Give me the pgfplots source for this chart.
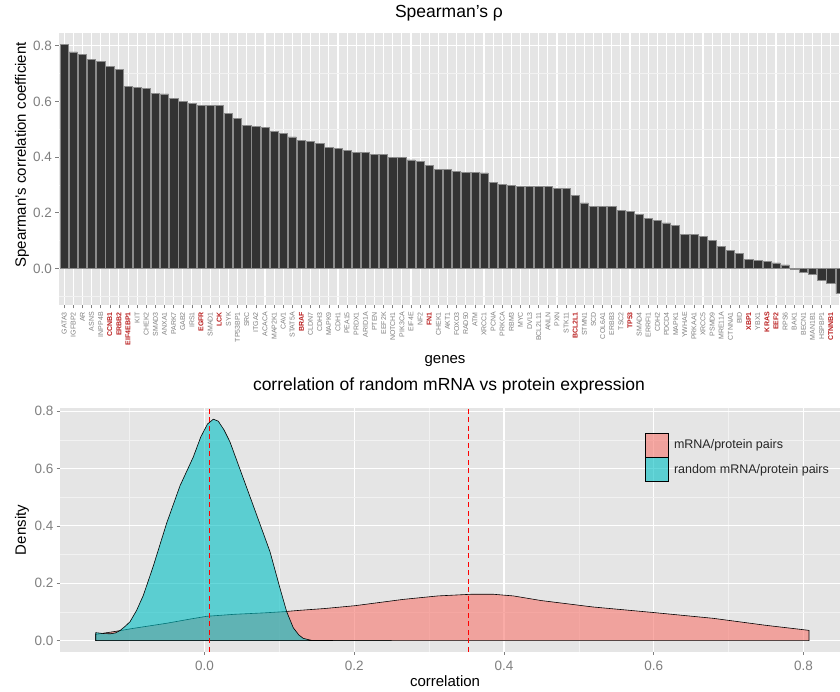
\documentclass[border=0pt]{standalone}
\usepackage{pgfplots}
\pgfplotsset{compat=1.18}
\usepackage{fontspec}
\setmainfont{Liberation Sans}
\definecolor{panelgrey}{RGB}{229,229,229}
\definecolor{minorgrey}{RGB}{242,242,242}
\definecolor{tickgrey}{RGB}{127,127,127}
\definecolor{barfill}{RGB}{51,51,51}
\definecolor{barline}{RGB}{140,140,140}
\definecolor{genered}{RGB}{185,30,30}
\definecolor{ggred}{RGB}{248,118,109}
\definecolor{ggteal}{RGB}{0,191,196}
\definecolor{vred}{RGB}{255,0,0}
\newcommand{\rg}[1]{\textcolor{genered}{\bfseries #1}}
\pgfplotsset{
  ggbase/.style={
    scale only axis,
    axis background/.style={fill=panelgrey},
    axis line style={draw=none},
    tick align=outside,
    xtick pos=lower, ytick pos=left,
    major tick length=3.5pt,
    minor tick length=0pt,
    tick style={color=tickgrey, line width=0.6pt},
    grid=both,
    major grid style={white, line width=1.1pt},
    minor grid style={minorgrey, line width=0.55pt},
    tick label style={font=\fontsize{13.5}{16}\selectfont, text=tickgrey},
    /pgf/number format/fixed,
    /pgf/number format/fixed zerofill,
    /pgf/number format/precision=1,
    /pgf/number format/assume math mode=true,
    label style={font=\fontsize{15}{18}\selectfont, text=black},
    title style={font=\fontsize{17.5}{21}\selectfont, text=black},
    yticklabel style={inner sep=0pt, anchor=east, xshift=-3pt},
  }
}
\begin{document}
\begin{tikzpicture}
\useasboundingbox (0,0) rectangle (840pt,692pt);
% ---------- top: Spearman's rho per gene ----------
\begin{axis}[ggbase,
  at={(58.7pt,387pt)}, anchor=south west,
  width=781.2pt, height=272.4pt,
  xmin=-0.6, xmax=85.0, ymin=-0.131, ymax=0.847,
  xtick={0,...,85},
  xticklabels={GATA3,IGFBP2,AR,ASNS,INPP4B,\rg{CCNB1},\rg{ERBB2},\rg{EIF4EBP1},KIT,CHEK2,SMAD3,ANXA1,PARK7,GAB2,IRS1,\rg{EGFR},SMAD1,\rg{LCK},SYK,TP53BP1,SRC,ITGA2,ACACA,MAP2K1,CAV1,STAT5A,\rg{BRAF},CLDN7,CDH3,MAPK9,CDH1,PEA15,PRDX1,ARID1A,PTEN,EEF2K,NOTCH1,PIK3CA,EIF4E,NF2,\rg{FN1},CHEK1,AKT1,FOXO3,RAD50,ATM,XRCC1,PCNA,PRKCA,RBM3,MYC,DVL3,BCL2L11,ANLN,PXN,STK11,\rg{BCL2L1},STMN1,SCD,COL6A1,ERBB3,TSC2,\rg{TP53},SMAD4,ERRFI1,CDH2,PDCD4,MAPK1,YWHAE,PRKAA1,XRCC5,PSMD9,MRE11A,CTNNA1,BID,\rg{XBP1},YBX1,\rg{KRAS},\rg{EEF2},RPS6,BAK1,BECN1,MAN1B1,HSPBP1,\rg{CTNNB1},{}},
  xticklabel style={font=\fontsize{7}{8}\selectfont, rotate=90, anchor=east, inner sep=0pt, xshift=-3.5pt},
  ytick={0,0.2,0.4,0.6,0.8},
  minor ytick={-0.1,0.1,0.3,0.5,0.7},
  title={Spearman's ρ},
  title style={at={(axis description cs:0.4996,1.0341)}, anchor=base},
  xlabel={genes},
  xlabel style={at={(axis description cs:0.4945,-0.213)}, anchor=base},
  ylabel={Spearman's correlation coefficient},
  ylabel style={at={(axis description cs:-0.047,0.551)}, anchor=center},
]
\addplot[ybar, bar width=0.9, fill=barfill, draw=barline, line width=0.5pt] coordinates {
(0,0.804) (1,0.778) (2,0.769) (3,0.750) (4,0.743) (5,0.725) (6,0.716) (7,0.653) (8,0.651) (9,0.647)
(10,0.629) (11,0.627) (12,0.612) (13,0.601) (14,0.593) (15,0.585) (16,0.585) (17,0.585) (18,0.557) (19,0.538)
(20,0.513) (21,0.511) (22,0.507) (23,0.492) (24,0.484) (25,0.473) (26,0.460) (27,0.457) (28,0.448) (29,0.434)
(30,0.430) (31,0.423) (32,0.417) (33,0.416) (34,0.411) (35,0.411) (36,0.398) (37,0.398) (38,0.390) (39,0.385)
(40,0.371) (41,0.357) (42,0.355) (43,0.348) (44,0.345) (45,0.344) (46,0.343) (47,0.308) (48,0.303) (49,0.299)
(50,0.296) (51,0.296) (52,0.294) (53,0.294) (54,0.288) (55,0.287) (56,0.263) (57,0.236) (58,0.224) (59,0.224)
(60,0.224) (61,0.209) (62,0.204) (63,0.195) (64,0.179) (65,0.173) (66,0.164) (67,0.155) (68,0.123) (69,0.123)
(70,0.116) (71,0.102) (72,0.080) (73,0.065) (74,0.053) (75,0.034) (76,0.029) (77,0.026) (78,0.020) (79,0.013)
(80,-0.002) (81,-0.014) (82,-0.021) (83,-0.041) (84,-0.053) (85,-0.090)
};
\end{axis}
% ---------- bottom: density ----------
\begin{axis}[ggbase,
  at={(60pt,40.4pt)}, anchor=south west,
  width=780pt, height=243.9pt,
  xmin=-0.193, xmax=0.8488, ymin=-0.038, ymax=0.812,
  xtick={0,0.2,0.4,0.6,0.8},
  minor xtick={-0.1,0.1,0.3,0.5,0.7},
  ytick={0,0.2,0.4,0.6,0.8},
  minor ytick={0.1,0.3,0.5,0.7},
  xticklabel style={inner sep=0pt, anchor=north, yshift=-6pt},
  title={correlation of random mRNA vs protein expression},
  title style={at={(axis description cs:0.4987,1.0439)}, anchor=base},
  xlabel={correlation},
  xlabel style={at={(axis description cs:0.4936,-0.145)}, anchor=base},
  ylabel={Density},
  ylabel style={at={(axis description cs:-0.0487,0.4986)}, anchor=center},
  legend cell align=left,
  legend image code/.code={\draw[#1] (0pt,-12pt) rectangle (23pt,12pt);},
  legend style={at={(axis description cs:0.7505,0.8975)}, anchor=north west,
    draw=none, fill=none, inner sep=0pt, outer sep=0pt, row sep=0pt, column sep=5pt,
    font=\fontsize{12.5}{14}\selectfont, text=black!85,
    nodes={inner sep=0pt, outer sep=0pt}},
]
\addplot[draw=black, line width=0.6pt, fill=ggred, fill opacity=0.6] coordinates {
(-0.1453,0) (-0.1453,0.022) (-0.12,0.032) (-0.095,0.043) (-0.07,0.053) (-0.05,0.061) (-0.02,0.075)
(0.003,0.085) (0.04,0.092) (0.08,0.097) (0.105,0.101) (0.128,0.106) (0.16,0.112) (0.201,0.122)
(0.2655,0.144) (0.3115,0.156) (0.3576,0.162) (0.385,0.162) (0.4127,0.156) (0.4494,0.140)
(0.5185,0.1176) (0.6004,0.098) (0.6794,0.078) (0.7485,0.054) (0.8074,0.036) (0.8074,0)
} \closedcycle;
\addlegendentry{mRNA/protein pairs}
\addplot[draw=black, line width=0.6pt, fill=ggteal, fill opacity=0.6] coordinates {
(-0.1453,0) (-0.1453,0.028) (-0.135,0.025) (-0.126,0.024) (-0.119,0.027) (-0.113,0.035) (-0.106,0.05)
(-0.0995,0.066) (-0.0906,0.106) (-0.0817,0.158) (-0.0684,0.26) (-0.0505,0.41) (-0.0327,0.54)
(-0.015,0.64) (-0.005,0.71) (0.004,0.755) (0.0118,0.772) (0.0184,0.765) (0.026,0.735) (0.034,0.693)
(0.0518,0.566) (0.0697,0.438) (0.0875,0.31) (0.1008,0.183) (0.1098,0.101) (0.1186,0.045)
(0.126,0.02) (0.132,0.008) (0.1432,0.001) (0.2,0) (0.25,0)
} \closedcycle;
\addlegendentry{random mRNA/protein pairs}
\addplot[draw=vred, dash pattern=on 5pt off 3.5pt, line width=1.5pt, forget plot] coordinates {(0.0064,-0.038) (0.0064,0.812)};
\addplot[draw=vred, dash pattern=on 5pt off 3.5pt, line width=1.5pt, forget plot] coordinates {(0.3525,-0.038) (0.3525,0.812)};
\end{axis}
\end{tikzpicture}
\end{document}
